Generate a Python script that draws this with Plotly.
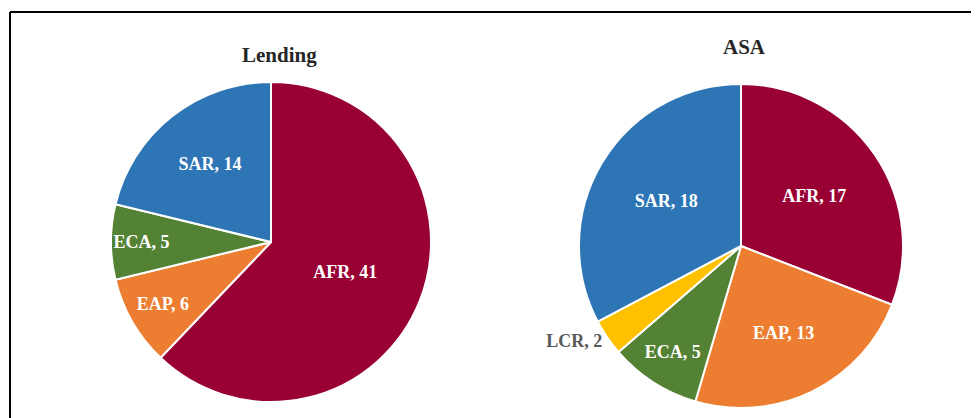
import plotly.graph_objects as go

# Data
regions_lending = ["AFR", "EAP", "ECA", "SAR"]
values_lending = [41, 6, 5, 14]
regions_asa = ["AFR", "EAP", "ECA", "LCR", "SAR"]
values_asa = [17, 13, 5, 2, 18]
titles = ["Lending", "ASA"]

color_map = {
    "AFR": "#990033",
    "EAP": "#ED7D31",
    "ECA": "#548235",
    "LCR": "#FFC000",
    "SAR": "#2E75B6",
}

W, H = 979, 418
OFF = 8  # page body margin offset
FONT = "Liberation Serif, Times New Roman, serif"


def px(x):
    return (x - OFF) / W


def py(y):
    return 1 - (y - OFF) / H


def dom(cx, cy, r):
    return dict(x=[px(cx - r), px(cx + r)], y=[py(cy + r), py(cy - r)])


fig = go.Figure()
fig.add_trace(go.Pie(
    labels=regions_lending, values=values_lending,
    marker=dict(colors=[color_map[r] for r in regions_lending], line=dict(color="white", width=2)),
    sort=False, direction="clockwise", rotation=0,
    texttemplate="<b>%{label}, %{value}</b>",
    textposition="inside", insidetextorientation="horizontal",
    textfont=dict(family=FONT, size=18, color="white"),
    domain=dom(271, 242, 160), showlegend=False, hoverinfo="label+value",
))
fig.add_trace(go.Pie(
    labels=regions_asa, values=values_asa,
    marker=dict(colors=[color_map[r] for r in regions_asa], line=dict(color="white", width=2)),
    sort=False, direction="clockwise", rotation=0,
    texttemplate="<b>%{label}, %{value}</b>",
    textposition=["inside", "inside", "inside", "outside", "inside"],
    insidetextorientation="horizontal",
    insidetextfont=dict(family=FONT, size=18, color="white"),
    outsidetextfont=dict(family=FONT, size=18, color="#595959"),
    domain=dom(741, 246, 162), showlegend=False, hoverinfo="label+value",
))

fig.update_layout(
    width=W, height=H,
    margin=dict(l=0, r=0, t=0, b=0),
    paper_bgcolor="white", plot_bgcolor="white",
    annotations=[
        dict(text="<b>" + titles[0] + "</b>", x=px(279), y=py(55), xref="paper", yref="paper",
             xanchor="center", yanchor="middle",
             showarrow=False, font=dict(family=FONT, size=21, color="#262626")),
        dict(text="<b>" + titles[1] + "</b>", x=px(744), y=py(47), xref="paper", yref="paper",
             xanchor="center", yanchor="middle",
             showarrow=False, font=dict(family=FONT, size=21, color="#262626")),
    ],
    shapes=[
        dict(type="line", xref="paper", yref="paper", x0=px(10), x1=1, y0=py(12), y1=py(12),
             line=dict(color="black", width=2)),
        dict(type="line", xref="paper", yref="paper", x0=px(10), x1=px(10), y0=0, y1=py(12),
             line=dict(color="black", width=2)),
    ],
)

fig.write_html("out.html")
